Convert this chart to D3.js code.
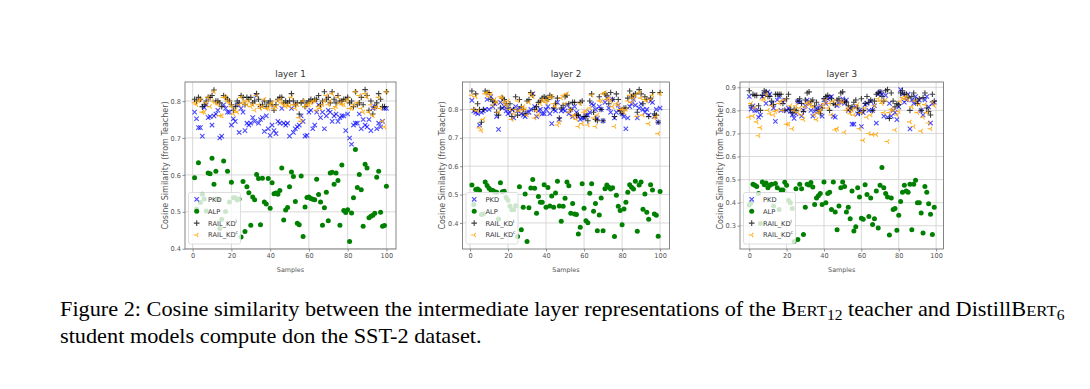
<!DOCTYPE html>
<meta charset="utf-8">
<head>
  <title>Cosine similarity per layer</title>
  <script src="https://d3js.org/d3.v7.min.js"></script>
  <style>
    body { margin: 0; background: #fff; }
    svg text { font-family: "DejaVu Sans", sans-serif; }
    svg text.caption { font-family: "Liberation Serif", serif; }
  </style>
</head>
<body>
  <svg id="fig" width="1090" height="389"></svg>
  <script>
    // ---- data ----
    var titles = ["layer 1", "layer 2", "layer 3"];
    var seriesNames = ["PKD", "ALP", "RAIL_KD", "RAIL_KD"];
    var seriesSup = ["", "", "l", "c"];
    var firstSample = [1, 1, 0];
    var xTicks = [0, 20, 40, 60, 80, 100];
    var yTicks = [
      [0.4, 0.5, 0.6, 0.7, 0.8],
      [0.4, 0.5, 0.6, 0.7, 0.8],
      [0.3, 0.4, 0.5, 0.6, 0.7, 0.8, 0.9]
    ];
    var xLabel = "Samples";
    var yLabel = "Cosine Similarity (from Teacher)";

    var pkd1 = [0.77,0.752,0.728,0.728,0.705,0.782,0.79,0.755,0.758,0.735,0.76,0.765,0.775,0.70,0.705,0.79,0.78,0.77,0.77,0.735,
      0.752,0.745,0.79,0.715,0.78,0.77,0.72,0.74,0.735,0.74,0.755,0.745,0.815,0.74,0.75,0.755,0.718,0.76,0.725,0.707,
      0.735,0.72,0.712,0.745,0.74,0.78,0.74,0.735,0.74,0.705,0.78,0.715,0.725,0.73,0.735,0.76,0.745,0.705,0.707,0.77,
      0.775,0.725,0.735,0.77,0.79,0.755,0.77,0.725,0.76,0.775,0.77,0.745,0.76,0.765,0.745,0.755,0.76,0.76,0.72,0.765,
      0.70,0.683,0.735,0.74,0.74,0.765,0.725,0.75,0.735,0.73,0.75,0.72,0.78,0.785,0.725,0.74,0.73,0.745,0.78,0.78];
    var alp1 = [0.592,0.508,0.633,0.525,0.548,0.535,0.502,0.605,0.603,0.645,0.575,0.610,0.535,0.455,0.480,0.638,0.501,0.610,0.527,0.580,
      0.538,0.538,0.532,0.535,0.432,0.582,0.447,0.568,0.552,0.464,0.540,0.533,0.601,0.590,0.465,0.591,0.527,0.521,0.590,0.510,
      0.579,0.549,0.551,0.548,0.558,0.619,0.478,0.505,0.512,0.568,0.608,0.596,0.528,0.469,0.465,0.597,0.433,0.513,0.539,0.540,
      0.536,0.534,0.533,0.588,0.547,0.527,0.464,0.511,0.553,0.476,0.605,0.607,0.575,0.605,0.585,0.464,0.627,0.504,0.498,0.506,
      0.420,0.497,0.538,0.669,0.566,0.601,0.560,0.461,0.629,0.619,0.484,0.488,0.491,0.496,0.594,0.610,0.499,0.461,0.463,0.569];
    var railL1 = [0.805,0.80,0.81,0.805,0.785,0.79,0.80,0.81,0.81,0.815,0.83,0.80,0.80,0.795,0.785,0.815,0.81,0.805,0.80,0.79,
      0.775,0.785,0.80,0.795,0.815,0.81,0.79,0.81,0.805,0.81,0.795,0.80,0.82,0.805,0.785,0.79,0.80,0.785,0.795,0.80,
      0.79,0.775,0.79,0.805,0.81,0.81,0.795,0.80,0.795,0.80,0.82,0.80,0.79,0.795,0.765,0.795,0.80,0.785,0.795,0.80,
      0.805,0.80,0.805,0.805,0.815,0.79,0.80,0.825,0.805,0.81,0.795,0.825,0.805,0.795,0.815,0.80,0.80,0.805,0.805,0.81,
      0.795,0.80,0.785,0.825,0.79,0.795,0.81,0.79,0.831,0.815,0.775,0.80,0.765,0.785,0.795,0.82,0.805,0.785,0.785,0.825];
    var railC1 = [0.795,0.79,0.80,0.805,0.77,0.77,0.795,0.81,0.785,0.80,0.825,0.795,0.79,0.76,0.76,0.81,0.81,0.80,0.795,0.785,
      0.765,0.775,0.77,0.79,0.81,0.795,0.80,0.79,0.80,0.785,0.79,0.775,0.815,0.79,0.78,0.785,0.805,0.78,0.78,0.79,
      0.795,0.78,0.785,0.80,0.805,0.795,0.79,0.785,0.79,0.785,0.81,0.79,0.78,0.79,0.755,0.745,0.80,0.785,0.79,0.79,
      0.795,0.80,0.80,0.775,0.785,0.78,0.79,0.80,0.815,0.79,0.80,0.82,0.78,0.785,0.81,0.795,0.79,0.79,0.80,0.805,
      0.78,0.78,0.79,0.825,0.795,0.815,0.78,0.77,0.82,0.81,0.77,0.79,0.76,0.78,0.785,0.81,0.78,0.745,0.73,0.825];

    var pkd2 = [0.832,0.795,0.79,0.785,0.745,0.79,0.795,0.80,0.835,0.80,0.845,0.81,0.82,0.775,0.73,0.825,0.805,0.81,0.795,0.785,
      0.79,0.80,0.77,0.81,0.795,0.805,0.785,0.78,0.775,0.79,0.79,0.80,0.855,0.81,0.775,0.795,0.80,0.785,0.785,0.80,
      0.81,0.785,0.75,0.80,0.795,0.825,0.765,0.795,0.80,0.795,0.815,0.785,0.80,0.775,0.81,0.79,0.775,0.765,0.77,0.77,
      0.78,0.78,0.79,0.82,0.815,0.80,0.77,0.81,0.80,0.76,0.825,0.84,0.805,0.79,0.835,0.77,0.79,0.815,0.80,0.785,
      0.775,0.732,0.77,0.81,0.82,0.835,0.815,0.77,0.805,0.82,0.80,0.79,0.80,0.78,0.83,0.825,0.775,0.80,0.755,0.805];
    var alp2 = [0.534,0.465,0.518,0.520,0.514,0.430,0.432,0.544,0.532,0.522,0.516,0.514,0.510,0.508,0.414,0.542,0.510,0.512,0.490,0.480,
      0.460,0.447,0.447,0.461,0.352,0.528,0.376,0.455,0.502,0.335,0.454,0.523,0.553,0.522,0.434,0.493,0.473,0.473,0.535,0.455,
      0.525,0.460,0.495,0.455,0.506,0.547,0.460,0.406,0.459,0.487,0.544,0.531,0.434,0.469,0.432,0.430,0.361,0.385,0.538,0.452,
      0.408,0.401,0.505,0.538,0.441,0.469,0.373,0.428,0.488,0.373,0.521,0.534,0.526,0.520,0.524,0.352,0.498,0.459,0.444,0.394,
      0.449,0.473,0.508,0.535,0.526,0.520,0.547,0.371,0.534,0.544,0.448,0.502,0.438,0.413,0.535,0.516,0.432,0.427,0.353,0.511];
    var railL2 = [0.865,0.80,0.855,0.82,0.80,0.755,0.80,0.865,0.86,0.86,0.835,0.83,0.825,0.79,0.78,0.805,0.84,0.835,0.82,0.805,
      0.82,0.775,0.80,0.845,0.78,0.835,0.81,0.80,0.785,0.83,0.835,0.86,0.85,0.80,0.81,0.825,0.83,0.84,0.845,0.84,
      0.835,0.85,0.845,0.805,0.82,0.84,0.77,0.805,0.815,0.845,0.85,0.82,0.80,0.825,0.825,0.78,0.78,0.825,0.83,0.775,
      0.775,0.76,0.83,0.855,0.79,0.765,0.76,0.845,0.80,0.76,0.855,0.85,0.82,0.86,0.835,0.775,0.855,0.835,0.795,0.785,
      0.805,0.805,0.84,0.865,0.845,0.85,0.855,0.79,0.87,0.855,0.82,0.845,0.835,0.775,0.84,0.86,0.785,0.78,0.755,0.86];
    var railC2 = [0.85,0.80,0.845,0.795,0.735,0.725,0.765,0.855,0.86,0.845,0.855,0.815,0.835,0.825,0.79,0.845,0.84,0.825,0.815,0.83,
      0.80,0.765,0.785,0.80,0.83,0.795,0.80,0.81,0.80,0.78,0.825,0.855,0.845,0.77,0.795,0.78,0.82,0.835,0.83,0.825,
      0.835,0.845,0.845,0.82,0.81,0.745,0.755,0.84,0.85,0.82,0.855,0.79,0.80,0.775,0.78,0.765,0.74,0.82,0.75,0.79,
      0.795,0.745,0.805,0.85,0.77,0.74,0.78,0.83,0.83,0.855,0.86,0.835,0.84,0.83,0.81,0.74,0.82,0.815,0.80,0.80,
      0.79,0.80,0.83,0.85,0.825,0.84,0.85,0.775,0.86,0.84,0.78,0.835,0.83,0.75,0.835,0.85,0.77,0.775,0.715,0.855];

    var pkd3 = [0.86,0.805,0.82,0.80,0.80,0.77,0.78,0.86,0.87,0.83,0.88,0.87,0.83,0.81,0.752,0.845,0.86,0.80,0.835,0.845,
      0.80,0.81,0.795,0.78,0.765,0.785,0.84,0.835,0.775,0.80,0.82,0.845,0.83,0.80,0.775,0.795,0.81,0.80,0.82,0.775,
      0.845,0.83,0.85,0.855,0.86,0.775,0.77,0.82,0.835,0.835,0.85,0.83,0.845,0.80,0.81,0.74,0.74,0.815,0.785,0.80,
      0.73,0.79,0.825,0.83,0.80,0.84,0.80,0.82,0.745,0.87,0.88,0.87,0.775,0.865,0.77,0.83,0.775,0.80,0.79,0.76,
      0.815,0.89,0.87,0.835,0.845,0.87,0.72,0.845,0.83,0.86,0.835,0.845,0.80,0.78,0.845,0.86,0.815,0.745,0.83,0.835];
    var alp3 = [0.39,0.40,0.48,0.475,0.47,0.44,0.31,0.49,0.478,0.485,0.465,0.475,0.48,0.385,0.483,0.465,0.37,0.455,0.455,0.488,
      0.475,0.41,0.40,0.375,0.232,0.46,0.24,0.48,0.46,0.262,0.38,0.48,0.476,0.487,0.468,0.392,0.42,0.43,0.44,0.392,
      0.49,0.40,0.44,0.445,0.37,0.49,0.36,0.283,0.385,0.465,0.49,0.47,0.36,0.38,0.33,0.45,0.277,0.295,0.465,0.425,
      0.332,0.328,0.478,0.435,0.34,0.42,0.305,0.33,0.45,0.29,0.475,0.552,0.465,0.44,0.425,0.26,0.42,0.37,0.375,0.28,
      0.345,0.405,0.445,0.475,0.45,0.445,0.48,0.283,0.48,0.497,0.40,0.40,0.355,0.268,0.47,0.445,0.395,0.35,0.262,0.38];
    var railL3 = [0.885,0.82,0.87,0.865,0.865,0.82,0.80,0.865,0.885,0.88,0.86,0.86,0.84,0.825,0.87,0.87,0.87,0.87,0.83,0.80,
      0.85,0.87,0.805,0.79,0.805,0.80,0.84,0.85,0.83,0.795,0.845,0.875,0.88,0.84,0.845,0.82,0.835,0.80,0.785,0.81,
      0.85,0.86,0.865,0.80,0.85,0.83,0.825,0.845,0.85,0.875,0.88,0.84,0.835,0.82,0.80,0.815,0.835,0.845,0.81,0.79,
      0.85,0.80,0.83,0.86,0.835,0.845,0.80,0.84,0.87,0.875,0.88,0.86,0.84,0.885,0.89,0.765,0.875,0.84,0.815,0.83,
      0.825,0.875,0.885,0.87,0.87,0.855,0.80,0.86,0.875,0.845,0.83,0.85,0.80,0.855,0.875,0.81,0.795,0.78,0.87,0.84];
    var railC3 = [0.77,0.83,0.775,0.81,0.75,0.69,0.725,0.845,0.85,0.87,0.80,0.785,0.82,0.78,0.795,0.80,0.83,0.84,0.80,0.845,
      0.74,0.74,0.82,0.72,0.80,0.82,0.79,0.81,0.78,0.76,0.815,0.83,0.835,0.825,0.815,0.78,0.76,0.79,0.80,0.82,
      0.83,0.845,0.81,0.83,0.78,0.84,0.715,0.72,0.825,0.84,0.835,0.705,0.80,0.81,0.785,0.80,0.78,0.81,0.825,0.72,
      0.79,0.67,0.81,0.77,0.70,0.78,0.695,0.82,0.695,0.85,0.84,0.83,0.79,0.845,0.665,0.79,0.805,0.80,0.715,0.78,
      0.795,0.84,0.855,0.85,0.86,0.845,0.75,0.815,0.73,0.84,0.79,0.825,0.71,0.77,0.825,0.79,0.745,0.72,0.835,0.82];

    var layers = [
      [pkd1, alp1, railL1, railC1],
      [pkd2, alp2, railL2, railC2],
      [pkd3, alp3, railL3, railC3]
    ];

    // ---- layout ----
    var panels = [
      { left: 185, right: 396, top: 82, bottom: 249 },
      { left: 462.5, right: 669.5, top: 82, bottom: 249 },
      { left: 740, right: 943.5, top: 82, bottom: 249 }
    ];
    var colors = ["#0000ff", "#008000", "#000000", "#ffa500"];
    var alphas = [0.7, 1, 0.75, 0.85];

    var svg = d3.select("#fig");

    function markerPath(type, s) {
      if (type == 0) return "M" + (-s) + "," + (-s) + "L" + s + "," + s + "M" + (-s) + "," + s + "L" + s + "," + (-s);
      if (type == 2) return "M" + (-s - 0.6) + ",0L" + (s + 0.6) + ",0M0," + (-s - 0.6) + "L0," + (s + 0.6);
      // tri_left
      return "M0,0L" + (-s - 0.8) + ",0M0,0L" + (s * 0.7) + "," + (-s) + "M0,0L" + (s * 0.7) + "," + s;
    }

    function drawMarker(g, type, x, y) {
      if (type == 1) {
        g.append("circle").attr("cx", x).attr("cy", y).attr("r", 2.5)
          .attr("fill", colors[1]);
      } else {
        g.append("path")
          .attr("d", markerPath(type, 2.2))
          .attr("transform", "translate(" + x + "," + y + ")")
          .attr("stroke", colors[type])
          .attr("stroke-opacity", alphas[type])
          .attr("stroke-width", 1.1)
          .attr("fill", "none");
      }
    }

    layers.forEach(function (series, p) {
      var box = panels[p];
      var n = series[0].length;
      var xMin = firstSample[p], xMax = firstSample[p] + n - 1;
      var xPad = (xMax - xMin) * 0.05;
      var all = d3.merge(series);
      var yMin = d3.min(all), yMax = d3.max(all);
      var yPad = (yMax - yMin) * 0.05;

      var x = d3.scaleLinear().domain([xMin - xPad, xMax + xPad]).range([box.left, box.right]);
      var y = d3.scaleLinear().domain([yMin - yPad, yMax + yPad]).range([box.bottom, box.top]);

      var g = svg.append("g");

      // grid
      g.append("g").selectAll("line").data(xTicks).enter().append("line")
        .attr("x1", function (d) { return x(d); }).attr("x2", function (d) { return x(d); })
        .attr("y1", box.top).attr("y2", box.bottom)
        .attr("stroke", "#cfcfcf").attr("stroke-width", 0.8);
      g.append("g").selectAll("line").data(yTicks[p]).enter().append("line")
        .attr("y1", function (d) { return y(d); }).attr("y2", function (d) { return y(d); })
        .attr("x1", box.left).attr("x2", box.right)
        .attr("stroke", "#cfcfcf").attr("stroke-width", 0.8);

      // axes
      var xAxis = g.append("g")
        .attr("transform", "translate(0," + box.bottom + ")")
        .call(d3.axisBottom(x).tickValues(xTicks).tickSize(2.5).tickPadding(1.5).tickFormat(d3.format("d")));
      var yAxis = g.append("g")
        .attr("transform", "translate(" + box.left + ",0)")
        .call(d3.axisLeft(y).tickValues(yTicks[p]).tickSize(2.5).tickPadding(1.5).tickFormat(d3.format(".1f")));
      [xAxis, yAxis].forEach(function (a) {
        a.select(".domain").remove();
        a.selectAll("line").attr("stroke", "#666").attr("stroke-width", 0.7);
        a.selectAll("text").attr("fill", "#555").style("font-size", "6.6px");
      });

      // points
      var pg = g.append("g");
      series.forEach(function (vals, s) {
        vals.forEach(function (v, i) {
          drawMarker(pg, s, x(xMin + i), y(v));
        });
      });

      // frame
      g.append("rect")
        .attr("x", box.left).attr("y", box.top)
        .attr("width", box.right - box.left).attr("height", box.bottom - box.top)
        .attr("fill", "none").attr("stroke", "#666").attr("stroke-width", 0.8);

      // title and labels
      g.append("text").attr("x", (box.left + box.right) / 2).attr("y", box.top - 5.5)
        .attr("text-anchor", "middle").attr("fill", "#333").style("font-size", "8.8px")
        .text(titles[p]);
      g.append("text").attr("x", (box.left + box.right) / 2).attr("y", box.bottom + 22.5)
        .attr("text-anchor", "middle").attr("fill", "#555").style("font-size", "6.4px")
        .text(xLabel);
      g.append("text")
        .attr("transform", "translate(" + (box.left - 17.5) + "," + ((box.top + box.bottom) / 2) + ") rotate(-90)")
        .attr("text-anchor", "middle").attr("fill", "#555").style("font-size", "8px")
        .text(yLabel);

      // legend
      var lg = g.append("g").attr("transform", "translate(" + (box.left + 3.5) + "," + (box.bottom - 56.5) + ")");
      lg.append("rect").attr("width", 52).attr("height", 51.5).attr("rx", 2)
        .attr("fill", "#fff").attr("fill-opacity", 0.8)
        .attr("stroke", "#d6d6d6").attr("stroke-width", 0.8);
      seriesNames.forEach(function (name, s) {
        var ry = 6.8 + s * 11.9;
        drawMarker(lg, s, 8.2, ry);
        var t = lg.append("text").attr("x", 19.5).attr("y", ry + 2.4)
          .attr("fill", "#333").style("font-size", "6.7px").text(name);
        if (seriesSup[s]) {
          t.append("tspan").attr("dy", -3).style("font-size", "4.5px").text(seriesSup[s]);
        }
      });
    });

    // caption (the printed page is slightly stretched horizontally)
    var capG = svg.append("g").attr("transform", "translate(60,0) scale(1.114,1)");
    var cap = capG.append("text").attr("class", "caption").attr("x", 0).attr("y", 316)
      .attr("fill", "#000").style("font-size", "20px");
    cap.append("tspan").text("Figure 2: Cosine similarity between the intermediate layer representations of the B");
    cap.append("tspan").style("font-size", "15px").text("ERT");
    cap.append("tspan").attr("dy", 4).style("font-size", "14px").text("12");
    cap.append("tspan").attr("dy", -4).text(" teacher and DistillB");
    cap.append("tspan").style("font-size", "15px").text("ERT");
    cap.append("tspan").attr("dy", 4).style("font-size", "14px").text("6");
    capG.append("text").attr("class", "caption").attr("x", 0).attr("y", 343)
      .attr("fill", "#000").style("font-size", "20px")
      .text("student models compute don the SST-2 dataset.");
  </script>
</body>
</html>
